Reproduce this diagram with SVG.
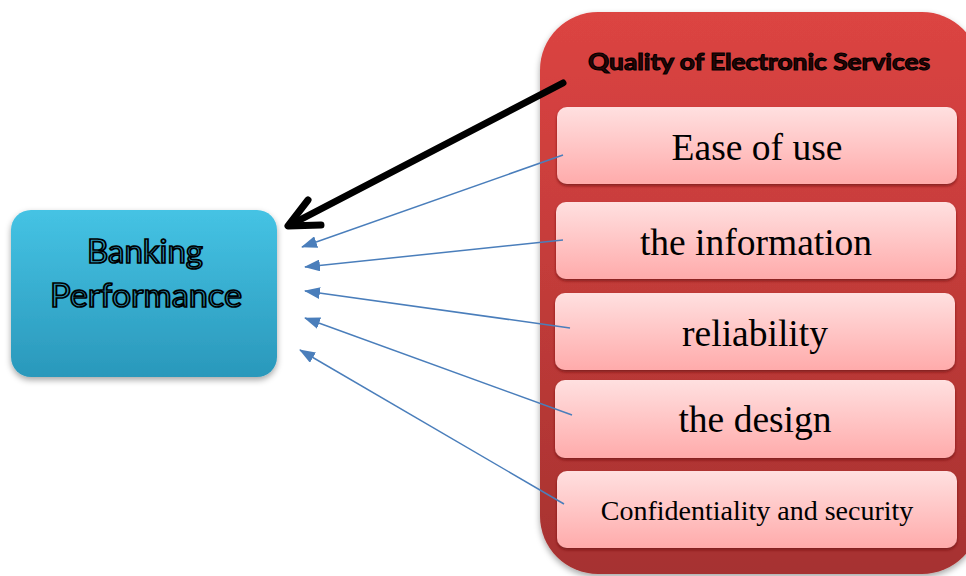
<svg xmlns="http://www.w3.org/2000/svg" width="966" height="576" viewBox="0 0 966 576">
<defs>
<linearGradient id="gBlue" x1="0" y1="0" x2="0" y2="1">
<stop offset="0" stop-color="#45c3e4"/>
<stop offset="1" stop-color="#2a98bb"/>
</linearGradient>
<linearGradient id="gRed" x1="0" y1="0" x2="0" y2="1">
<stop offset="0" stop-color="#dc4442"/>
<stop offset="1" stop-color="#a63230"/>
</linearGradient>
<linearGradient id="gPink" x1="0" y1="0" x2="0" y2="1">
<stop offset="0" stop-color="#ffe0e0"/>
<stop offset="1" stop-color="#ffabab"/>
</linearGradient>
<filter id="sh" x="-20%" y="-20%" width="140%" height="150%">
<feDropShadow dx="0" dy="3" stdDeviation="3" flood-color="#000" flood-opacity="0.35"/>
</filter>
<filter id="shs" x="-10%" y="-20%" width="120%" height="150%">
<feDropShadow dx="0" dy="2" stdDeviation="1.5" flood-color="#6a1010" flood-opacity="0.7"/>
</filter>
<marker id="blueHeadL" viewBox="0 0 16 12" refX="15" refY="6" markerWidth="16" markerHeight="12" markerUnits="userSpaceOnUse" orient="auto">
<path d="M0,0 L16,6 L0,12 z" fill="#4a7ebb"/>
</marker>
</defs>
<style>
.item { font-family: "Liberation Serif", "Times New Roman", serif; fill: #000; text-anchor: middle; }
.pink { fill: url(#gPink); filter: url(#shs); }
.blue { stroke: #4a7ebb; stroke-width: 1.5; fill: none; marker-end: url(#blueHeadL); }
.cal { font-family: Lato, "Open Sans", sans-serif; text-anchor: middle; stroke: #000; }
</style>
<rect width="966" height="576" fill="#fff"/>

<g id="quality">
<rect x="540" y="12" width="440" height="562" rx="58" ry="58" fill="url(#gRed)" filter="url(#sh)"/>
<text class="cal" x="759" y="70" font-weight="bold" font-size="23" fill="#2a0505" stroke-width="1.1" textLength="342" lengthAdjust="spacingAndGlyphs">Quality of Electronic Services</text>
</g>

<g id="ease">
<rect class="pink" x="557" y="107" width="400" height="77" rx="10"/>
<text class="item" x="757" y="160" font-size="37.5">Ease of use</text>
</g>
<g id="information">
<rect class="pink" x="556" y="202" width="400" height="77" rx="10"/>
<text class="item" x="756" y="255" font-size="37.5">the information</text>
</g>
<g id="reliability">
<rect class="pink" x="555" y="293" width="400" height="77" rx="10"/>
<text class="item" x="755" y="346" font-size="37.5">reliability</text>
</g>
<g id="design">
<rect class="pink" x="555" y="380" width="400" height="78" rx="10"/>
<text class="item" x="755" y="432" font-size="37.5">the design</text>
</g>
<g id="confidentiality">
<rect class="pink" x="557" y="471" width="400" height="77" rx="10"/>
<text class="item" x="757" y="520" font-size="28">Confidentiality and security</text>
</g>

<g id="banking">
<rect x="11" y="210" width="266" height="167" rx="20" ry="20" fill="url(#gBlue)" filter="url(#sh)"/>
<text class="cal" x="145" y="263" font-size="32" fill="#2f9fc4" stroke-width="1.7" textLength="116" lengthAdjust="spacingAndGlyphs">Banking</text>
<text class="cal" x="146" y="307" font-size="32" fill="#2c98bc" stroke-width="1.7" textLength="192" lengthAdjust="spacingAndGlyphs">Performance</text>
</g>

<g id="connectors">
<line x1="563" y1="83" x2="292" y2="224" stroke="#000" stroke-width="7" stroke-linecap="round"/>
<polyline points="308,200 288,226 321,225" fill="none" stroke="#000" stroke-width="7" stroke-linecap="round" stroke-linejoin="round"/>
<line class="blue" x1="563" y1="155" x2="302" y2="247"/>
<line class="blue" x1="563" y1="240" x2="305" y2="267"/>
<line class="blue" x1="570" y1="328" x2="305" y2="291"/>
<line class="blue" x1="572" y1="415" x2="305" y2="318"/>
<line class="blue" x1="564" y1="504" x2="300" y2="350"/>
</g>
</svg>
